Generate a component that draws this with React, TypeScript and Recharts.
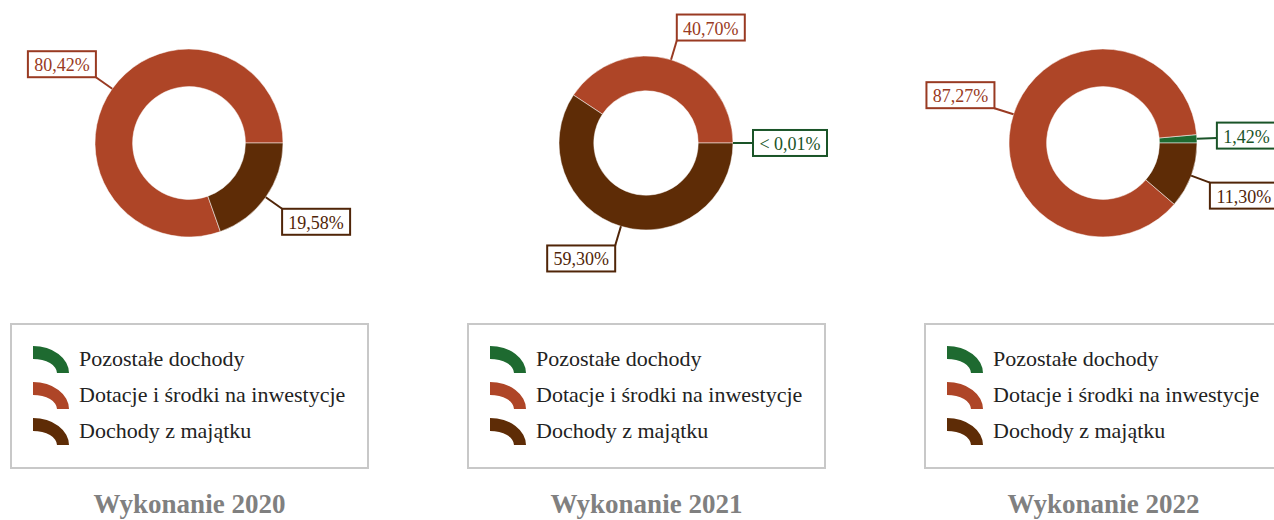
import React from 'react';
import { PieChart, Pie, Cell, Legend } from 'recharts';

const CATEGORIES = ['Pozostałe dochody', 'Dotacje i środki na inwestycje', 'Dochody z majątku'];
const YEARS = ['2020', '2021', '2022'];
const VALUES_2020 = [0, 80.42, 19.58];
const VALUES_2021 = [0.004, 40.7, 59.3];
const VALUES_2022 = [1.42, 87.27, 11.3];
const SERIES = [VALUES_2020, VALUES_2021, VALUES_2022];

const COLORS = ['#1e6a30', '#ae4527', '#5e2c06'];
// label boxes use a slightly darker shade of the slice colour
const LABEL_COLORS = ['#1a5428', '#993a22', '#502508'];

const FONT = "'Liberation Serif', 'Times New Roman', serif";
const PANEL_STEP = 457;
const PANEL_W = 379;
const RADII = [94, 87, 94];

let ctx: CanvasRenderingContext2D | null = null;
function measure(text: string) {
  if (!ctx) ctx = document.createElement('canvas').getContext('2d');
  if (!ctx) return text.length * 9;
  ctx.font = `18px ${FONT}`;
  return ctx.measureText(text).width;
}

function fmt(v: number) {
  if (v > 0 && v < 0.01) return '< 0,01%';
  return v.toFixed(2).replace('.', ',') + '%';
}

const RAD = Math.PI / 180;

function renderLabel(props: any) {
  const { cx, cy, midAngle, outerRadius, value, index } = props;
  if (!value) return null;
  const color = LABEL_COLORS[index];
  const c = Math.cos(midAngle * RAD);
  const s = Math.sin(midAngle * RAD);
  const x1 = cx + outerRadius * c;
  const y1 = cy - outerRadius * s;
  const r2 = outerRadius + 20;
  const x2 = cx + r2 * c;
  const y2 = cy - r2 * s;
  const text = fmt(value);
  const w = Math.round(measure(text) + 13);
  const h = 26;
  const bx = c >= 0 ? x2 : x2 - w;
  const sc = Math.max(-1, Math.min(1, s * 4));
  const by = y2 - sc * (h / 2) - h / 2;
  return (
    <g key={`lbl-${index}`}>
      <line x1={x1} y1={y1} x2={x2} y2={y2} stroke={color} strokeWidth={2} />
      <rect x={bx} y={by} width={w} height={h} fill="#fff" stroke={color} strokeWidth={2} />
      <text
        x={bx + w / 2}
        y={by + h / 2 + 1}
        textAnchor="middle"
        dominantBaseline="central"
        fontSize={18}
        fontFamily={FONT}
        fill={color}
      >
        {text}
      </text>
    </g>
  );
}

function LegendIcon({ color }: { color: string }) {
  return (
    <svg width={36} height={27} style={{ display: 'block' }}>
      <path d="M0,0 A36,27 0 0 1 36,27 L24,27 A24,14 0 0 0 0,13 Z" fill={color} />
    </svg>
  );
}

function LegendBox() {
  return (
    <div
      style={{
        boxSizing: 'border-box',
        width: 359,
        height: 146,
        border: '2px solid #c8c8c8',
        paddingTop: 16,
        fontFamily: FONT,
        fontSize: 22,
        color: '#222',
        background: '#fff',
      }}
    >
      {CATEGORIES.map((name, i) => (
        <div key={name} style={{ display: 'flex', alignItems: 'center', height: 36, paddingLeft: 21 }}>
          <LegendIcon color={COLORS[i]} />
          <span style={{ marginLeft: 10, whiteSpace: 'nowrap' }}>{name}</span>
        </div>
      ))}
    </div>
  );
}

export default function App() {
  return (
    <div
      style={{
        position: 'absolute',
        left: 0,
        top: 0,
        width: 1274,
        height: 520,
        overflow: 'hidden',
        background: '#fff',
      }}
    >
      {SERIES.map((values, p) => {
        const data = CATEGORIES.map((name, i) => ({ name, value: values[i] }));
        const r = RADII[p];
        return (
          <div key={YEARS[p]} style={{ position: 'absolute', left: p * PANEL_STEP, top: 0, width: PANEL_W, height: 520 }}>
            <PieChart width={PANEL_W} height={520} margin={{ top: 0, right: 0, bottom: 0, left: 0 }}>
              <Pie
                data={data}
                dataKey="value"
                nameKey="name"
                cx={189}
                cy={143}
                outerRadius={r}
                innerRadius={r * 0.6}
                startAngle={0}
                endAngle={360}
                stroke="#fff"
                strokeOpacity={0.5}
                strokeWidth={1}
                label={renderLabel}
                labelLine={false}
                isAnimationActive={false}
              >
                {data.map((d, i) => (
                  <Cell key={d.name} fill={COLORS[i]} />
                ))}
              </Pie>
              <Legend
                content={() => <LegendBox />}
                wrapperStyle={{ position: 'absolute', left: 10, top: 323, width: 359, height: 146 }}
              />
            </PieChart>
            <div
              style={{
                position: 'absolute',
                left: 0,
                top: 491,
                width: PANEL_W,
                textAlign: 'center',
                fontFamily: FONT,
                fontSize: 27,
                fontWeight: 'bold',
                lineHeight: 1,
                color: '#808080',
                whiteSpace: 'nowrap',
              }}
            >
              Wykonanie {YEARS[p]}
            </div>
          </div>
        );
      })}
    </div>
  );
}
